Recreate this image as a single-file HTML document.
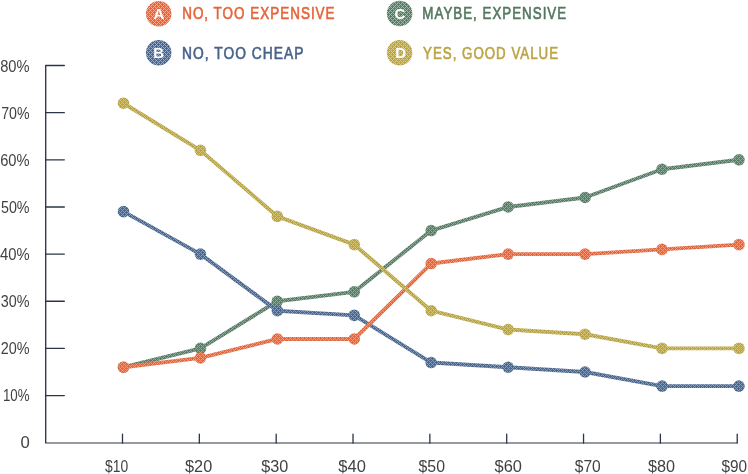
<!DOCTYPE html>
<html><head><meta charset="utf-8"><title>Chart</title>
<style>
html,body{margin:0;padding:0;background:#fff;width:748px;height:474px;overflow:hidden}
svg{display:block;will-change:transform}
.yl,.xl{font-family:"Liberation Sans",sans-serif;font-size:16px;fill:#424242}
.lt{font-family:"Liberation Sans",sans-serif;font-size:16px;stroke-width:0.6px;letter-spacing:1.2px}
.ll{font-family:"Liberation Sans",sans-serif;font-size:15px;font-weight:bold;fill:#fff}
</style></head>
<body>
<svg width="748" height="474" viewBox="0 0 748 474">
<defs><pattern id="pA" patternUnits="userSpaceOnUse" x="0" y="0" width="4" height="4"><rect width="4" height="4" fill="#E5663A"/><g fill="#fff" fill-opacity="0.35"><path d="M0 0h1v1h-1zM1 1h1v1h-1zM1 3h1v1h-1zM2 2h1v1h-1zM3 1h1v1h-1zM3 3h1v1h-1z"/></g></pattern><pattern id="qA" patternUnits="userSpaceOnUse" x="0" y="0" width="4" height="4"><rect width="4" height="4" fill="#E5663A"/><g fill="#fff" fill-opacity="0.45"><path d="M0 0h1v1h-1zM1 1h1v1h-1zM1 3h1v1h-1zM2 2h1v1h-1zM3 1h1v1h-1zM3 3h1v1h-1z"/></g></pattern><pattern id="pB" patternUnits="userSpaceOnUse" x="0" y="0" width="4" height="4"><rect width="4" height="4" fill="#4A6790"/><g fill="#fff" fill-opacity="0.35"><path d="M0 0h1v1h-1zM1 1h1v1h-1zM1 3h1v1h-1zM2 2h1v1h-1zM3 1h1v1h-1zM3 3h1v1h-1z"/></g></pattern><pattern id="qB" patternUnits="userSpaceOnUse" x="0" y="0" width="4" height="4"><rect width="4" height="4" fill="#4A6790"/><g fill="#fff" fill-opacity="0.45"><path d="M0 0h1v1h-1zM1 1h1v1h-1zM1 3h1v1h-1zM2 2h1v1h-1zM3 1h1v1h-1zM3 3h1v1h-1z"/></g></pattern><pattern id="pC" patternUnits="userSpaceOnUse" x="0" y="0" width="4" height="4"><rect width="4" height="4" fill="#587D66"/><g fill="#fff" fill-opacity="0.35"><path d="M0 0h1v1h-1zM1 1h1v1h-1zM1 3h1v1h-1zM2 2h1v1h-1zM3 1h1v1h-1zM3 3h1v1h-1z"/></g></pattern><pattern id="qC" patternUnits="userSpaceOnUse" x="0" y="0" width="4" height="4"><rect width="4" height="4" fill="#587D66"/><g fill="#fff" fill-opacity="0.45"><path d="M0 0h1v1h-1zM1 1h1v1h-1zM1 3h1v1h-1zM2 2h1v1h-1zM3 1h1v1h-1zM3 3h1v1h-1z"/></g></pattern><pattern id="pD" patternUnits="userSpaceOnUse" x="0" y="0" width="4" height="4"><rect width="4" height="4" fill="#BAA43F"/><g fill="#fff" fill-opacity="0.35"><path d="M0 0h1v1h-1zM1 1h1v1h-1zM1 3h1v1h-1zM2 2h1v1h-1zM3 1h1v1h-1zM3 3h1v1h-1z"/></g></pattern><pattern id="qD" patternUnits="userSpaceOnUse" x="0" y="0" width="4" height="4"><rect width="4" height="4" fill="#BAA43F"/><g fill="#fff" fill-opacity="0.45"><path d="M0 0h1v1h-1zM1 1h1v1h-1zM1 3h1v1h-1zM2 2h1v1h-1zM3 1h1v1h-1zM3 3h1v1h-1z"/></g></pattern></defs>
<path d="M45.7 65.5 V443" fill="none" stroke="#2B3547" stroke-width="1.35"/>
<path d="M45.1 443 H737.4" fill="none" stroke="#2B3547" stroke-width="1.2"/>
<line x1="45.7" y1="395.55" x2="64.3" y2="395.55" stroke="#2B3547" stroke-width="1.35" stroke-linecap="round"/>
<line x1="45.7" y1="348.40" x2="64.3" y2="348.40" stroke="#2B3547" stroke-width="1.35" stroke-linecap="round"/>
<line x1="45.7" y1="301.25" x2="64.3" y2="301.25" stroke="#2B3547" stroke-width="1.35" stroke-linecap="round"/>
<line x1="45.7" y1="254.10" x2="64.3" y2="254.10" stroke="#2B3547" stroke-width="1.35" stroke-linecap="round"/>
<line x1="45.7" y1="206.95" x2="64.3" y2="206.95" stroke="#2B3547" stroke-width="1.35" stroke-linecap="round"/>
<line x1="45.7" y1="159.80" x2="64.3" y2="159.80" stroke="#2B3547" stroke-width="1.35" stroke-linecap="round"/>
<line x1="45.7" y1="112.65" x2="64.3" y2="112.65" stroke="#2B3547" stroke-width="1.35" stroke-linecap="round"/>
<line x1="45.7" y1="65.50" x2="64.3" y2="65.50" stroke="#2B3547" stroke-width="1.35" stroke-linecap="round"/>
<line x1="122.50" y1="434.1" x2="122.50" y2="443" stroke="#2B3547" stroke-width="1.3" stroke-linecap="round"/>
<line x1="199.34" y1="434.1" x2="199.34" y2="443" stroke="#2B3547" stroke-width="1.3" stroke-linecap="round"/>
<line x1="276.18" y1="434.1" x2="276.18" y2="443" stroke="#2B3547" stroke-width="1.3" stroke-linecap="round"/>
<line x1="353.02" y1="434.1" x2="353.02" y2="443" stroke="#2B3547" stroke-width="1.3" stroke-linecap="round"/>
<line x1="429.86" y1="434.1" x2="429.86" y2="443" stroke="#2B3547" stroke-width="1.3" stroke-linecap="round"/>
<line x1="506.70" y1="434.1" x2="506.70" y2="443" stroke="#2B3547" stroke-width="1.3" stroke-linecap="round"/>
<line x1="583.54" y1="434.1" x2="583.54" y2="443" stroke="#2B3547" stroke-width="1.3" stroke-linecap="round"/>
<line x1="660.38" y1="434.1" x2="660.38" y2="443" stroke="#2B3547" stroke-width="1.3" stroke-linecap="round"/>
<line x1="737.22" y1="434.1" x2="737.22" y2="443" stroke="#2B3547" stroke-width="1.3" stroke-linecap="round"/>
<text x="20.50" y="447.92" class="yl" textLength="9.29" lengthAdjust="spacingAndGlyphs">0</text>
<text x="2.91" y="400.92" class="yl" textLength="26.63" lengthAdjust="spacingAndGlyphs">10%</text>
<text x="0.72" y="353.92" class="yl" textLength="28.85" lengthAdjust="spacingAndGlyphs">20%</text>
<text x="0.84" y="306.92" class="yl" textLength="28.74" lengthAdjust="spacingAndGlyphs">30%</text>
<text x="-0.05" y="259.92" class="yl" textLength="29.64" lengthAdjust="spacingAndGlyphs">40%</text>
<text x="0.94" y="212.92" class="yl" textLength="28.63" lengthAdjust="spacingAndGlyphs">50%</text>
<text x="0.20" y="165.92" class="yl" textLength="29.39" lengthAdjust="spacingAndGlyphs">60%</text>
<text x="1.23" y="118.92" class="yl" textLength="28.34" lengthAdjust="spacingAndGlyphs">70%</text>
<text x="0.21" y="71.92" class="yl" textLength="29.38" lengthAdjust="spacingAndGlyphs">80%</text>
<text x="105.08" y="472.00" class="xl" textLength="23.12" lengthAdjust="spacingAndGlyphs">$10</text>
<text x="185.05" y="472.00" class="xl" textLength="27.14" lengthAdjust="spacingAndGlyphs">$20</text>
<text x="261.35" y="472.00" class="xl" textLength="27.04" lengthAdjust="spacingAndGlyphs">$30</text>
<text x="338.34" y="472.00" class="xl" textLength="27.55" lengthAdjust="spacingAndGlyphs">$40</text>
<text x="418.55" y="472.00" class="xl" textLength="26.42" lengthAdjust="spacingAndGlyphs">$50</text>
<text x="494.54" y="472.00" class="xl" textLength="27.35" lengthAdjust="spacingAndGlyphs">$60</text>
<text x="574.76" y="472.00" class="xl" textLength="26.01" lengthAdjust="spacingAndGlyphs">$70</text>
<text x="648.05" y="472.00" class="xl" textLength="27.04" lengthAdjust="spacingAndGlyphs">$80</text>
<text x="721.46" y="472.00" class="xl" textLength="25.59" lengthAdjust="spacingAndGlyphs">$90</text>
<polyline points="123.50,367.26 200.43,348.40 277.36,301.25 354.29,291.82 431.22,230.53 508.15,206.95 585.08,197.52 662.01,169.23 738.94,159.80" fill="none" stroke="url(#pC)" stroke-width="3.9" stroke-linejoin="round" stroke-linecap="round"/>
<circle cx="123.50" cy="367.26" r="5.8" fill="url(#pC)"/>
<circle cx="200.43" cy="348.40" r="5.8" fill="url(#pC)"/>
<circle cx="277.36" cy="301.25" r="5.8" fill="url(#pC)"/>
<circle cx="354.29" cy="291.82" r="5.8" fill="url(#pC)"/>
<circle cx="431.22" cy="230.53" r="5.8" fill="url(#pC)"/>
<circle cx="508.15" cy="206.95" r="5.8" fill="url(#pC)"/>
<circle cx="585.08" cy="197.52" r="5.8" fill="url(#pC)"/>
<circle cx="662.01" cy="169.23" r="5.8" fill="url(#pC)"/>
<circle cx="738.94" cy="159.80" r="5.8" fill="url(#pC)"/>
<polyline points="123.50,211.66 200.43,254.10 277.36,310.68 354.29,315.39 431.22,362.54 508.15,367.26 585.08,371.98 662.01,386.12 738.94,386.12" fill="none" stroke="url(#pB)" stroke-width="3.9" stroke-linejoin="round" stroke-linecap="round"/>
<circle cx="123.50" cy="211.66" r="5.8" fill="url(#pB)"/>
<circle cx="200.43" cy="254.10" r="5.8" fill="url(#pB)"/>
<circle cx="277.36" cy="310.68" r="5.8" fill="url(#pB)"/>
<circle cx="354.29" cy="315.39" r="5.8" fill="url(#pB)"/>
<circle cx="431.22" cy="362.54" r="5.8" fill="url(#pB)"/>
<circle cx="508.15" cy="367.26" r="5.8" fill="url(#pB)"/>
<circle cx="585.08" cy="371.98" r="5.8" fill="url(#pB)"/>
<circle cx="662.01" cy="386.12" r="5.8" fill="url(#pB)"/>
<circle cx="738.94" cy="386.12" r="5.8" fill="url(#pB)"/>
<polyline points="123.50,367.26 200.43,357.83 277.36,338.97 354.29,338.97 431.22,263.53 508.15,254.10 585.08,254.10 662.01,249.38 738.94,244.67" fill="none" stroke="url(#pA)" stroke-width="3.9" stroke-linejoin="round" stroke-linecap="round"/>
<circle cx="123.50" cy="367.26" r="5.8" fill="url(#pA)"/>
<circle cx="200.43" cy="357.83" r="5.8" fill="url(#pA)"/>
<circle cx="277.36" cy="338.97" r="5.8" fill="url(#pA)"/>
<circle cx="354.29" cy="338.97" r="5.8" fill="url(#pA)"/>
<circle cx="431.22" cy="263.53" r="5.8" fill="url(#pA)"/>
<circle cx="508.15" cy="254.10" r="5.8" fill="url(#pA)"/>
<circle cx="585.08" cy="254.10" r="5.8" fill="url(#pA)"/>
<circle cx="662.01" cy="249.38" r="5.8" fill="url(#pA)"/>
<circle cx="738.94" cy="244.67" r="5.8" fill="url(#pA)"/>
<polyline points="123.50,103.22 200.43,150.37 277.36,216.38 354.29,244.67 431.22,310.68 508.15,329.54 585.08,334.25 662.01,348.40 738.94,348.40" fill="none" stroke="url(#pD)" stroke-width="3.9" stroke-linejoin="round" stroke-linecap="round"/>
<circle cx="123.50" cy="103.22" r="5.8" fill="url(#pD)"/>
<circle cx="200.43" cy="150.37" r="5.8" fill="url(#pD)"/>
<circle cx="277.36" cy="216.38" r="5.8" fill="url(#pD)"/>
<circle cx="354.29" cy="244.67" r="5.8" fill="url(#pD)"/>
<circle cx="431.22" cy="310.68" r="5.8" fill="url(#pD)"/>
<circle cx="508.15" cy="329.54" r="5.8" fill="url(#pD)"/>
<circle cx="585.08" cy="334.25" r="5.8" fill="url(#pD)"/>
<circle cx="662.01" cy="348.40" r="5.8" fill="url(#pD)"/>
<circle cx="738.94" cy="348.40" r="5.8" fill="url(#pD)"/>
<circle cx="158.7" cy="13.85" r="12.75" fill="url(#qA)"/>
<text x="158.80" y="19.05" text-anchor="middle" class="ll">A</text>
<text x="182.16" y="18.60" class="lt" fill="#E5653A" stroke="#E5653A" textLength="153.43" lengthAdjust="spacingAndGlyphs">NO, TOO EXPENSIVE</text>
<circle cx="158.7" cy="52.7" r="12.75" fill="url(#qB)"/>
<text x="158.70" y="57.90" text-anchor="middle" class="ll">B</text>
<text x="182.04" y="58.50" class="lt" fill="#48628A" stroke="#48628A" textLength="122.50" lengthAdjust="spacingAndGlyphs">NO, TOO CHEAP</text>
<circle cx="399.6" cy="13.4" r="12.75" fill="url(#qC)"/>
<text x="399.90" y="18.60" text-anchor="middle" class="ll">C</text>
<text x="422.37" y="18.60" class="lt" fill="#52785F" stroke="#52785F" textLength="144.79" lengthAdjust="spacingAndGlyphs">MAYBE, EXPENSIVE</text>
<circle cx="399.6" cy="52.7" r="12.75" fill="url(#qD)"/>
<text x="400.60" y="57.90" text-anchor="middle" class="ll">D</text>
<text x="423.00" y="58.50" class="lt" fill="#BBA444" stroke="#BBA444" textLength="136.07" lengthAdjust="spacingAndGlyphs">YES, GOOD VALUE</text>
</svg>
</body></html>
